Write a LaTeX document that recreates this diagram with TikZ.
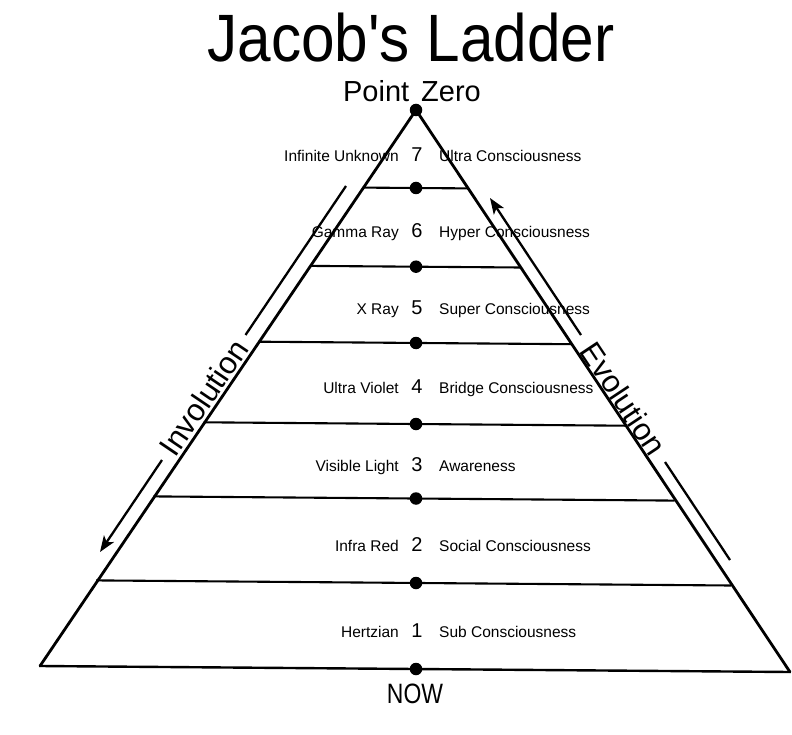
\documentclass[tikz,border=0pt]{standalone}
\usepackage{fontspec}
\setmainfont{Liberation Sans}
\usetikzlibrary{arrows.meta}
\newcommand{\sq}{\XeTeXglyph\XeTeXglyphindex "quotesingle"\relax}
\begin{document}
\begin{tikzpicture}[x=1pt,y=-1pt,
  dot/.style={circle,fill=black,inner sep=0pt,minimum size=12.5pt},
  edge/.style={line width=2.8pt,line join=miter,line cap=round},
  rung/.style={line width=2.1pt},
  flow/.style={line width=2.3pt},
  ltxt/.style={font=\fontsize{15.5}{16}\selectfont,anchor=base east,inner sep=0pt},
  rtxt/.style={font=\fontsize{15.5}{16}\selectfont,anchor=base west,inner sep=0pt},
  num/.style={font=\fontsize{20}{22}\selectfont,anchor=base,inner sep=0pt},
  big/.style={font=\fontsize{31}{32}\selectfont,inner sep=0pt},
  tip/.style={-{Stealth[length=16pt,width=12pt,inset=4pt]}}
]
\useasboundingbox[fill=white] (0,0) rectangle (792,735);

% title texts
\node[anchor=base,inner sep=0pt,font=\fontsize{67}{70}\selectfont,xscale=0.9] (title) at (411,62) {Jacob\sq s Ladder};
\node[anchor=base,inner sep=0pt,font=\fontsize{29}{30}\selectfont] (pz) at (412,102) {Point\hspace{12pt}Zero};
\node[anchor=base,inner sep=0pt,font=\fontsize{28}{30}\selectfont,xscale=0.82] (now) at (415,703) {NOW};

% pyramid
\coordinate (apex) at (416,110);
\coordinate (bl) at (40,666);
\coordinate (br) at (790,672);
\draw[edge] (bl) -- (apex) -- (br);
\draw[rung,line width=2.4pt] (bl) -- (br);

% rungs
\coordinate (l1) at (363.2,187.6); \coordinate (r1) at (467.9,188.4);
\coordinate (l2) at (310.0,265.9); \coordinate (r2) at (520.3,267.5);
\coordinate (l3) at (258.4,341.7); \coordinate (r3) at (571.1,344.2);
\coordinate (l4) at (203.6,422.3); \coordinate (r4) at (625.0,425.7);
\coordinate (l5) at (153.3,496.4); \coordinate (r5) at (674.5,500.6);
\coordinate (l6) at (96.1,580.4);  \coordinate (r6) at (730.8,585.5);
\foreach \i in {1,...,6} { \draw[rung] (l\i) -- (r\i); }

% dots
\node[dot] (d0) at (apex) {};
\node[dot] (d1) at (416,188) {};
\node[dot] (d2) at (416,266.7) {};
\node[dot] (d3) at (416,343) {};
\node[dot] (d4) at (416,424) {};
\node[dot] (d5) at (416,498.5) {};
\node[dot] (d6) at (416,583) {};
\node[dot] (d7) at (416,669) {};

% level labels
\node[ltxt] (a7) at (399,162) {Infinite Unknown};
\node[num]  (n7) at (417,162) {7};
\node[rtxt] (b7) at (439,162) {Ultra Consciousness};

\node[ltxt] (a6) at (399,238) {Gamma Ray};
\node[num]  (n6) at (417,238) {6};
\node[rtxt] (b6) at (439,238) {Hyper Consciousness};

\node[ltxt] (a5) at (399,314) {X Ray};
\node[num]  (n5) at (417,314) {5};
\node[rtxt] (b5) at (439,314) {Super Consciousness};

\node[ltxt] (a4) at (399,393) {Ultra Violet};
\node[num]  (n4) at (417,393) {4};
\node[rtxt] (b4) at (439,393) {Bridge Consciousness};

\node[ltxt] (a3) at (399,471) {Visible Light};
\node[num]  (n3) at (417,471) {3};
\node[rtxt] (b3) at (439,471) {Awareness};

\node[ltxt] (a2) at (399,551) {Infra Red};
\node[num]  (n2) at (417,551) {2};
\node[rtxt] (b2) at (439,551) {Social Consciousness};

\node[ltxt] (a1) at (399,637) {Hertzian};
\node[num]  (n1) at (417,637) {1};
\node[rtxt] (b1) at (439,637) {Sub Consciousness};

% involution
\coordinate (i0) at (346,186);
\coordinate (i1) at (245.5,335);
\coordinate (i2) at (162,460);
\coordinate (i3) at (100,552);
\draw[flow] (i0) -- (i1);
\draw[flow,tip] (i2) -- (i3);
\node[big,rotate=55.9] (inv) at (203.5,397.5) {Involution};

% evolution
\coordinate (e0) at (490,198);
\coordinate (e1) at (581,335);
\coordinate (e2) at (665,462);
\coordinate (e3) at (730,560);
\draw[flow,tip] (e1) -- (e0);
\draw[flow] (e2) -- (e3);
\node[big,rotate=-56.4] (evo) at (623.5,398.5) {Evolution};
\end{tikzpicture}
\end{document}
